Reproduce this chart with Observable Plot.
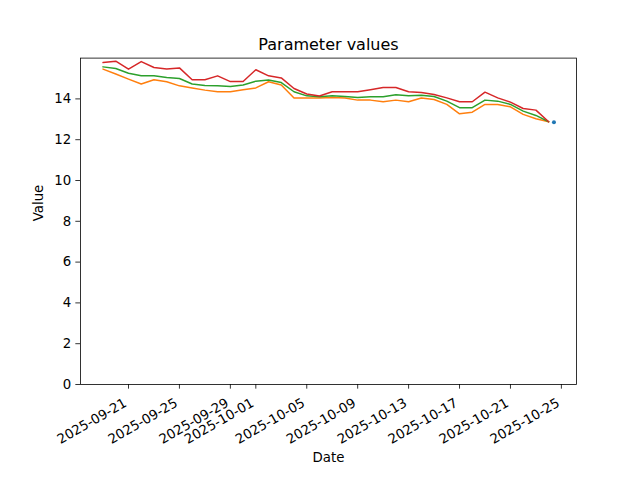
<!DOCTYPE html>
<html><head><meta charset="utf-8">
<script src="https://cdn.jsdelivr.net/npm/d3@7"></script>
<script src="https://cdn.jsdelivr.net/npm/@observablehq/plot@0.6"></script>
<style>body{margin:0;background:#fff} svg{display:block}</style>
</head><body><div id="chart"></div>
<script>
const dates = ["2025-09-19","2025-09-20","2025-09-21","2025-09-22","2025-09-23","2025-09-24","2025-09-25","2025-09-26","2025-09-27","2025-09-28",
  "2025-09-29","2025-09-30","2025-10-01","2025-10-02","2025-10-03","2025-10-04","2025-10-05","2025-10-06","2025-10-07","2025-10-08",
  "2025-10-09","2025-10-10","2025-10-11","2025-10-12","2025-10-13","2025-10-14","2025-10-15","2025-10-16","2025-10-17","2025-10-18",
  "2025-10-19","2025-10-20","2025-10-21","2025-10-22","2025-10-23","2025-10-24"];
const orangeSeries = [15.46,15.22,14.97,14.73,14.94,14.84,14.64,14.53,14.43,14.35,14.35,14.45,14.54,14.84,14.68,14.04,14.04,14.04,
  14.07,14.04,13.94,13.94,13.86,13.94,13.86,14.04,13.97,13.73,13.27,13.35,13.73,13.73,13.61,13.24,13.03,12.88];
const greenSeries = [15.57,15.49,15.26,15.13,15.13,15.05,15.0,14.73,14.66,14.64,14.61,14.68,14.87,14.93,14.8,14.35,14.15,14.1,
  14.15,14.12,14.07,14.1,14.1,14.2,14.15,14.18,14.12,13.89,13.57,13.57,13.94,13.89,13.73,13.4,13.19,12.88];
const redSeries = [15.78,15.85,15.46,15.83,15.54,15.46,15.52,14.94,14.94,15.13,14.85,14.85,15.43,15.13,15.03,14.51,14.24,14.14,
  14.35,14.35,14.35,14.45,14.56,14.56,14.35,14.31,14.22,14.05,13.86,13.86,14.33,14.05,13.84,13.53,13.45,12.88];
const pointDate = ["2025-10-24T10:00"];
const pointValue = [12.85];
const xTickLabels = ["2025-09-21","2025-09-25","2025-09-29","2025-10-01","2025-10-05","2025-10-09","2025-10-13","2025-10-17","2025-10-21","2025-10-25"];
const yTicks = [0,2,4,6,8,10,12,14];
const titleText = "Parameter values";
const xLabel = "Date";
const yLabel = "Value";

const parse = s => new Date(s + (s.includes("T") ? ":00Z" : "T00:00:00Z"));
const series = [
  {key: "s1", color: "#ff7f0e", values: orangeSeries},
  {key: "s2", color: "#2ca02c", values: greenSeries},
  {key: "s3", color: "#d62728", values: redSeries}
];
const seriesRows = series.map(s => s.values.map((v, i) => ({date: parse(dates[i]), value: v})));
const pts = pointDate.map((d, i) => ({date: parse(d), value: pointValue[i]}));

const allX = seriesRows.flat().map(r => +r.date).concat(pts.map(p => +p.date));
const x0 = d3.min(allX), x1 = d3.max(allX), pad = (x1 - x0) * 0.05;
const allY = seriesRows.flat().map(r => r.value).concat(pts.map(p => p.value));
const y1 = d3.max(allY), ymn = d3.min(allY);
const yTop = y1 + (y1 - ymn) * 0.05;
const xTicks = xTickLabels.map(parse);

const chart = Plot.plot({
  width: 640, height: 480,
  marginLeft: 80, marginRight: 64, marginTop: 57.6, marginBottom: 96,
  style: "font-family: 'DejaVu Sans'; font-size: 13.33px; background: white; overflow: visible; color: black",
  x: {type: "utc", domain: [new Date(x0 - pad), new Date(x1 + pad)]},
  y: {domain: [0, yTop]},
  marks: [
    ...series.map((s, k) => Plot.lineY(seriesRows[k], {x: "date", y: "value", stroke: s.color, strokeWidth: 1.5})),
    Plot.dot(pts, {x: "date", y: "value", r: 2, fill: "#1f77b4", stroke: null}),
    Plot.frame({stroke: "black", strokeWidth: 0.8}),
    Plot.axisX(xTicks, {tickFormat: () => "", tickSize: 4.67, strokeWidth: 0.8, label: null}),
    Plot.axisX(xTicks, {tickFormat: d3.utcFormat("%Y-%m-%d"), tickRotate: -30, tickSize: 0, tickPadding: 9.33, strokeWidth: 0, label: null, fontSize: 13.33, dx: -3, dy: 8}),
    Plot.axisY(yTicks, {tickSize: 4.67, tickPadding: 4.67, strokeWidth: 0.8, label: null, fontSize: 13.33}),
    Plot.text([titleText], {frameAnchor: "top", dy: -19, fontSize: 16}),
    Plot.text([xLabel], {frameAnchor: "bottom", dy: 77, fontSize: 13.33}),
    Plot.text([yLabel], {frameAnchor: "left", dx: -42, rotate: -90, fontSize: 13.33})
  ]
});
document.getElementById("chart").appendChild(chart);
</script>
</body></html>
